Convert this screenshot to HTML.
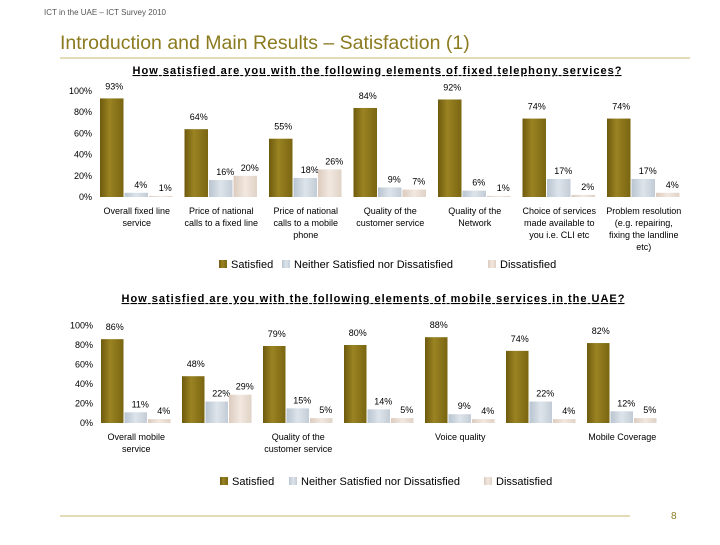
<!DOCTYPE html>
<html><head><meta charset="utf-8"><style>
body{margin:0;background:#fff;width:720px;height:540px;overflow:hidden;font-family:"Liberation Sans",sans-serif}
</style></head><body>
<svg id="s" width="720" height="540" xmlns="http://www.w3.org/2000/svg" font-family="Liberation Sans, sans-serif">
<defs>
<linearGradient id="gS" x1="0" x2="1"><stop offset="0" stop-color="#6e5a0e"/><stop offset="0.4" stop-color="#9a8322"/><stop offset="1" stop-color="#7a6612"/></linearGradient>
<linearGradient id="gN" x1="0" x2="1"><stop offset="0" stop-color="#b8c4d0"/><stop offset="0.5" stop-color="#dde4eb"/><stop offset="1" stop-color="#c3ccd6"/></linearGradient>
<linearGradient id="gD" x1="0" x2="1"><stop offset="0" stop-color="#dccbbe"/><stop offset="0.5" stop-color="#f2e8e0"/><stop offset="1" stop-color="#e0d2c6"/></linearGradient>
</defs>
<text x="44" y="15" font-size="8" fill="#555">ICT in the UAE – ICT Survey 2010</text>
<text x="60" y="49" font-size="19.5" fill="#8b7a1e">Introduction and Main Results – Satisfaction (1)</text>
<line x1="60" y1="58" x2="690" y2="58" stroke="#c8b870" stroke-width="1"/>
<line x1="60" y1="516" x2="630" y2="516" stroke="#c8b870" stroke-width="1"/>
<text x="671" y="519" font-size="10" fill="#8b7a1e">8</text>
<g id="c1"></g>
<g id="c2"></g>
</svg>
<script>
const cats1=["Overall fixed line|service","Price of national|calls to a fixed line","Price of national|calls to a mobile|phone","Quality of the|customer service","Quality of the|Network","Choice of services|made available to|you i.e. CLI etc","Problem resolution|(e.g. repairing,|fixing the landline|etc)"];
const sat1=[93,64,55,84,92,74,74];
const neu1=[4,16,18,9,6,17,17];
const dis1=[1,20,26,7,1,2,4];
const cats2=["Overall mobile|service","","Quality of the|customer service","","Voice quality","","Mobile Coverage"];
const sat2=[86,48,79,80,88,74,82];
const neu2=[11,22,15,14,9,22,12];
const dis2=[4,29,5,5,4,4,5];
const ticks=[0,20,40,60,80,100];
const seriesNames=["Satisfied","Neither Satisfied nor Dissatisfied","Dissatisfied"];
const NS="http://www.w3.org/2000/svg";
function mk(p,t,a){const e=document.createElementNS(NS,t);for(const k in a)e.setAttribute(k,a[k]);p.appendChild(e);return e;}
function draw(g,o){
  const y=v=>o.y0-v*o.k;
  const tt=mk(g,"text",{x:o.tx,y:o.ty,"font-size":"11","font-weight":"bold","text-anchor":"middle","text-decoration":"underline",fill:"#000",textLength:o.tl,lengthAdjust:"spacing"});
  tt.textContent=o.title;
  
  
  ticks.forEach(t=>{const e=mk(g,"text",{x:o.x0-8,y:y(t)+3,"font-size":"9","text-anchor":"end",fill:"#000"});e.textContent=t+"%";
    
    });
  const ser=[o.s,o.n,o.d],fills=["url(#gS)","url(#gN)","url(#gD)"];
  o.cats.forEach((c,i)=>{
    ser.forEach((arr,j)=>{
      const bx=o.x0+i*o.gw+j*o.bw,v=arr[i];
      const r=mk(g,"rect",{x:bx,y:y(v),width:o.bw-1,height:v*o.k,fill:fills[j]});
      
      
      const l=mk(g,"text",{x:bx+o.bw/2+(j?4:2),y:y(v)-(j?5:9),"font-size":"9","text-anchor":"middle",fill:"#000"});
      l.textContent=v+"%";
      
      
    });
    c.split("|").forEach((ln,k)=>{if(!ln)return;const t=mk(g,"text",{x:o.x0+i*o.gw+1.5*o.bw,y:o.y0+17+k*12,"font-size":"9","text-anchor":"middle",fill:"#000"});t.textContent=ln;
      
      });
  });
  seriesNames.forEach((n,j)=>{
    const lx=o.lx[j];
    const r=mk(g,"rect",{x:lx,y:o.ly-8,width:8,height:8,fill:fills[j]});
    
    
    const t=mk(g,"text",{x:lx+12,y:o.ly,"font-size":"11",fill:"#000"});t.textContent=n;
    
    
  });
}
draw(document.getElementById("c1"),{title:"How satisfied are you with the following elements of fixed telephony services?",tx:377,ty:74,tl:489,cats:cats1,s:sat1,n:neu1,d:dis1,x0:100,y0:197,k:1.06,gw:84.5,bw:24.5,lx:[219,282,488],ly:268});
draw(document.getElementById("c2"),{title:"How satisfied are you with the following elements of mobile services in the UAE?",tx:373,ty:302,tl:503,cats:cats2,s:sat2,n:neu2,d:dis2,x0:101,y0:423,k:0.975,gw:81,bw:23.5,lx:[220,289,484],ly:485});
</script>
</body></html>
